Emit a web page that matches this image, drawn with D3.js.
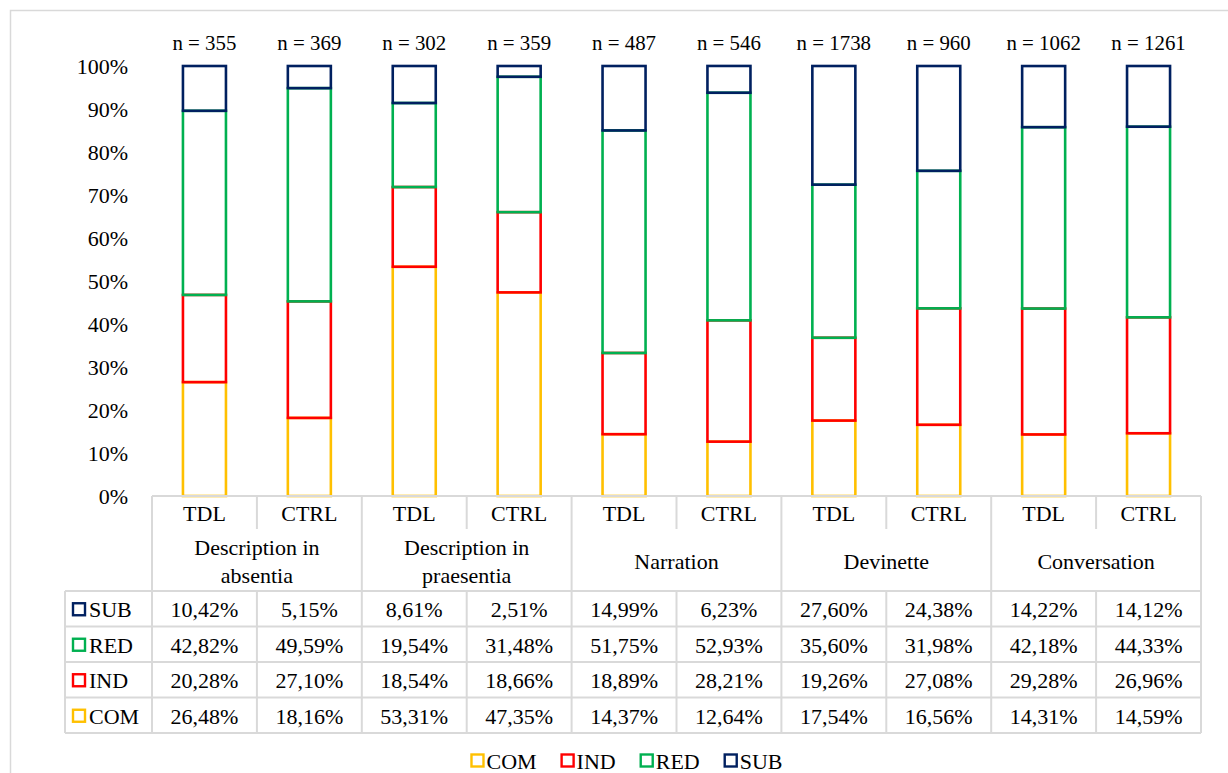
<!DOCTYPE html>
<html>
<head>
<meta charset="utf-8">
<script src="https://cdn.jsdelivr.net/npm/d3@7"></script>
<style>
  html, body { margin: 0; padding: 0; background: #fff; }
  svg { display: block; }
</style>
</head>
<body>
<div id="chart"></div>
<script>
// ---- data ----
const groupLabels = [["Description in", "absentia"], ["Description in", "praesentia"], ["Narration"], ["Devinette"], ["Conversation"]];
const subLabels = ["TDL", "CTRL", "TDL", "CTRL", "TDL", "CTRL", "TDL", "CTRL", "TDL", "CTRL"];
const nCounts = [355, 369, 302, 359, 487, 546, 1738, 960, 1062, 1261];
const seriesNames = ["COM", "IND", "RED", "SUB"];
const COM = [26.48, 18.16, 53.31, 47.35, 14.37, 12.64, 17.54, 16.56, 14.31, 14.59];
const IND = [20.28, 27.10, 18.54, 18.66, 18.89, 28.21, 19.26, 27.08, 29.28, 26.96];
const RED = [42.82, 49.59, 19.54, 31.48, 51.75, 52.93, 35.60, 31.98, 42.18, 44.33];
const SUB = [10.42, 5.15, 8.61, 2.51, 14.99, 6.23, 27.60, 24.38, 14.22, 14.12];
const yTicks = [0, 10, 20, 30, 40, 50, 60, 70, 80, 90, 100];
const seriesColors = ["#FFC000", "#FF0000", "#00B050", "#002060"];

// ---- layout ----
const W = 1228, H = 773;
const FS = 22;
const FONT = "'Liberation Serif', 'Times New Roman', Times, 'DejaVu Serif', serif";
const gridColor = "#D9D9D9";
const svg = d3.select("#chart").append("svg").attr("width", W).attr("height", H)
  .attr("font-family", FONT).style("font-family", FONT);

// outer chart border
svg.append("rect").attr("x", 10.5).attr("y", 10.5).attr("width", W + 20).attr("height", H + 20)
  .attr("fill", "none").attr("stroke", gridColor).attr("stroke-width", 1.5);

const idx = d3.range(subLabels.length);
const x = d3.scaleBand().domain(idx).range([152, 1201]).padding(0);
const y = d3.scaleLinear().domain([0, 100]).range([496, 66]);
const barW = x.bandwidth() * 0.41;

// stack
const rows = idx.map(i => ({ i, COM: COM[i], IND: IND[i], RED: RED[i], SUB: SUB[i] }));
const stack = d3.stack().keys(seriesNames)(rows);

// y axis labels
svg.append("g").selectAll("text").data(yTicks).join("text")
  .attr("x", 128).attr("y", d => y(d)).attr("dy", "0.35em")
  .attr("text-anchor", "end").attr("font-size", FS)
  .text(d => d + "%");

// bars (outline only)
const sg = svg.append("g").selectAll("g").data(stack).join("g")
  .attr("stroke", (d, k) => seriesColors[k]);
sg.selectAll("rect").data(d => d).join("rect")
  .attr("x", d => x(d.data.i) + (x.bandwidth() - barW) / 2)
  .attr("width", barW)
  .attr("y", d => y(d[1]))
  .attr("height", d => y(d[0]) - y(d[1]))
  .attr("fill", "none")
  .attr("stroke-width", 2.6);

// n labels
svg.append("g").selectAll("text").data(nCounts).join("text")
  .attr("x", (d, i) => x(i) + x.bandwidth() / 2).attr("y", 43).attr("dy", "0.35em")
  .attr("text-anchor", "middle").attr("font-size", FS * 0.95)
  .text(d => "n = " + d);

// ---- data table ----
const tTop = 496, subBottom = 529, grpBottom = 591, rowH = 35.5;
const legendLeft = 65, tLeft = 152, tRight = 1201;
const tableRows = [3, 2, 1, 0]; // SUB, RED, IND, COM
const tBottom = grpBottom + rowH * tableRows.length;
const grid = svg.append("g").attr("stroke", gridColor).attr("stroke-width", 2);
grid.append("line").attr("x1", tLeft).attr("x2", tRight).attr("y1", tTop).attr("y2", tTop);
d3.range(tableRows.length + 1).forEach(r => {
  const yy = grpBottom + r * rowH;
  grid.append("line").attr("x1", legendLeft).attr("x2", tRight).attr("y1", yy).attr("y2", yy);
});
grid.append("line").attr("x1", legendLeft).attr("x2", legendLeft).attr("y1", grpBottom).attr("y2", tBottom);
d3.range(subLabels.length + 1).forEach(c => {
  const xx = c < subLabels.length ? x(c) : tRight;
  if (c % 2 === 0) {
    grid.append("line").attr("x1", xx).attr("x2", xx).attr("y1", tTop).attr("y2", tBottom);
  } else {
    grid.append("line").attr("x1", xx).attr("x2", xx).attr("y1", tTop).attr("y2", subBottom);
    grid.append("line").attr("x1", xx).attr("x2", xx).attr("y1", grpBottom).attr("y2", tBottom);
  }
});

// sub labels
svg.append("g").selectAll("text").data(subLabels).join("text")
  .attr("x", (d, i) => x(i) + x.bandwidth() / 2).attr("y", (tTop + subBottom) / 2 + 1).attr("dy", "0.35em")
  .attr("text-anchor", "middle").attr("font-size", FS).text(d => d);

// group labels
const gl = svg.append("g").selectAll("text").data(groupLabels).join("text")
  .attr("text-anchor", "middle").attr("font-size", FS)
  .attr("x", (d, g) => x(g * 2) + x.bandwidth())
  .attr("y", (subBottom + grpBottom) / 2 + 1);
gl.selectAll("tspan").data(d => d.map((t, k) => ({ t, k, n: d.length }))).join("tspan")
  .attr("x", function () { return d3.select(this.parentNode).attr("x"); })
  .attr("dy", d => d.k === 0 ? ((-(d.n - 1) * 28 / 2) + 0.35 * FS) + "px" : "28px")
  .text(d => d.t);

// values
const seriesArr = [COM, IND, RED, SUB];
const fmt = v => v.toFixed(2).replace(".", ",") + "%";
tableRows.forEach((s, r) => {
  const cy = grpBottom + r * rowH + rowH / 2 + 1;
  svg.append("g").selectAll("text").data(seriesArr[s]).join("text")
    .attr("x", (d, i) => x(i) + x.bandwidth() / 2).attr("y", cy).attr("dy", "0.35em")
    .attr("text-anchor", "middle").attr("font-size", FS).text(d => fmt(d));
  svg.append("rect").attr("x", 73).attr("y", cy - 6.5).attr("width", 12).attr("height", 12)
    .attr("fill", "none").attr("stroke", seriesColors[s]).attr("stroke-width", 2.4);
  svg.append("text").attr("x", 89).attr("y", cy).attr("dy", "0.35em")
    .attr("font-size", FS).text(seriesNames[s]);
});

// bottom legend
const lg = svg.append("g");
let cx = 0;
seriesNames.forEach((name, k) => {
  const it = lg.append("g").attr("transform", `translate(${cx},0)`);
  it.append("rect").attr("x", 1).attr("y", -6.5).attr("width", 12).attr("height", 12)
    .attr("fill", "none").attr("stroke", seriesColors[k]).attr("stroke-width", 2.4);
  const t = it.append("text").attr("x", 16).attr("dy", "0.35em").attr("font-size", FS).text(name);
  cx += 16 + t.node().getComputedTextLength() + 24;
});
const totalW = cx - 24;
lg.attr("transform", `translate(${626.5 - totalW / 2},761)`);
</script>
</body>
</html>
